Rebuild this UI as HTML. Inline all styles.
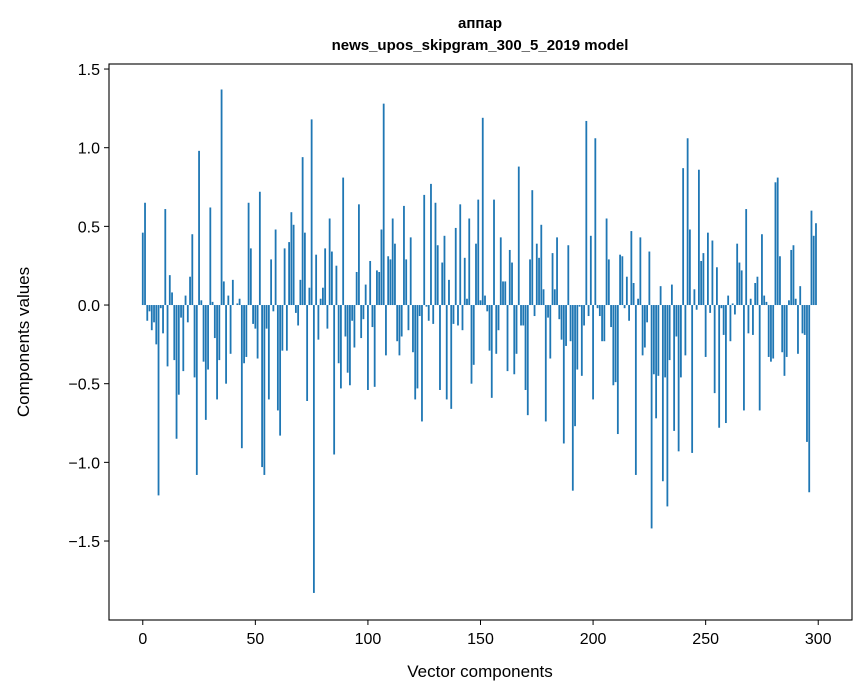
<!DOCTYPE html>
<html><head><meta charset="utf-8"><style>
body{margin:0;background:#fff;}
svg{display:block;font-family:"Liberation Sans","DejaVu Sans",sans-serif;}
</style></head><body>
<svg id="chart" width="867" height="696" viewBox="0 0 867 696">
<rect width="867" height="696" fill="#fff"/>
<text x="480" y="28" text-anchor="middle" font-size="15" font-weight="bold">аппар</text>
<text x="480" y="50" text-anchor="middle" font-size="15" font-weight="bold">news_upos_skipgram_300_5_2019 model</text>
<g id="bars"></g>
<g id="axes"></g>
<rect x="109" y="64" width="743" height="556" fill="none" stroke="#000" stroke-width="1.1"/>
<text x="480" y="677" text-anchor="middle" font-size="17">Vector components</text>
<text transform="translate(29,342) rotate(-90)" text-anchor="middle" font-size="17">Components values</text>
</svg>
<script>
const values = [
0.46,0.65,-0.10,-0.04,-0.16,-0.11,-0.25,-1.21,-0.02,-0.18,
0.61,-0.39,0.19,0.08,-0.35,-0.85,-0.57,-0.08,-0.42,0.06,
-0.11,0.18,0.45,-0.46,-1.08,0.98,0.03,-0.36,-0.73,-0.41,
0.62,0.02,-0.21,-0.60,-0.35,1.37,0.15,-0.50,0.06,-0.31,
0.16,0.00,0.01,0.04,-0.91,-0.37,-0.33,0.65,0.36,-0.12,
-0.15,-0.34,0.72,-1.03,-1.08,-0.15,-0.60,0.29,-0.04,0.48,
-0.67,-0.83,-0.29,0.36,-0.29,0.40,0.59,0.51,-0.05,-0.13,
0.16,0.94,0.46,-0.61,0.11,1.18,-1.83,0.32,-0.22,0.04,
0.11,0.36,-0.15,0.55,0.34,-0.95,0.25,-0.37,-0.53,0.81,
-0.20,-0.43,-0.51,-0.10,-0.27,0.21,0.64,-0.21,-0.09,0.13,
-0.54,0.28,-0.14,-0.52,0.22,0.21,0.48,1.28,-0.32,0.31,
0.29,0.55,0.39,-0.23,-0.32,-0.20,0.63,0.29,-0.16,0.43,
-0.30,-0.60,-0.53,-0.07,-0.74,0.70,-0.01,-0.10,0.77,-0.12,
0.65,0.38,-0.54,0.27,0.44,-0.60,0.16,-0.66,-0.12,0.49,
-0.13,0.64,-0.16,0.30,0.04,0.55,-0.50,-0.38,0.39,0.67,
0.03,1.19,0.06,-0.04,-0.29,-0.59,0.67,-0.31,-0.16,0.43,
0.15,0.15,-0.42,0.35,0.27,-0.44,-0.31,0.88,-0.13,-0.13,
-0.54,-0.70,0.29,0.73,-0.07,0.39,0.30,0.51,0.10,-0.74,
-0.08,-0.34,0.33,0.10,0.43,-0.09,-0.22,-0.88,-0.26,0.38,
-0.23,-1.18,-0.77,-0.41,-0.01,-0.45,-0.13,1.17,-0.07,0.44,
-0.60,1.06,-0.02,-0.07,-0.23,-0.23,0.55,0.29,-0.14,-0.51,
-0.49,-0.82,0.32,0.31,-0.02,0.18,-0.10,0.47,0.14,-1.08,
0.04,0.43,-0.32,-0.27,-0.11,0.34,-1.42,-0.44,-0.72,-0.45,
0.12,-1.12,-0.46,-1.28,-0.35,0.13,-0.80,-0.20,-0.93,-0.46,
0.87,-0.32,1.06,0.48,-0.94,0.10,-0.03,0.86,0.28,0.33,
-0.33,0.46,-0.05,0.41,-0.56,0.24,-0.78,-0.02,-0.19,-0.75,
0.06,-0.23,0.01,-0.06,0.39,0.27,0.22,-0.67,0.61,-0.18,
0.04,-0.19,0.14,0.18,-0.67,0.45,0.06,0.02,-0.33,-0.36,
-0.34,0.78,0.81,0.31,-0.30,-0.45,-0.33,0.03,0.35,0.38,
0.04,-0.31,0.12,-0.18,-0.19,-0.87,-1.19,0.60,0.44,0.52
];
const xTicks = [0,50,100,150,200,250,300];
const yTicks = [1.5,1.0,0.5,0.0,-0.5,-1.0,-1.5];
const yTickLabels = ["1.5","1.0","0.5","0.0","\u22120.5","\u22121.0","\u22121.5"];

const NS = "http://www.w3.org/2000/svg";
const L=109,R=852,T=64,B=620, X0=-15, X1=315, Y0=-2.002, Y1=1.532;
const xs = v => L + (v - X0) / (X1 - X0) * (R - L);
const ys = v => B - (v - Y0) / (Y1 - Y0) * (B - T);
const bars = document.getElementById('bars');
values.forEach((v, i) => {
  const r = document.createElementNS(NS, 'rect');
  const x1 = xs(i - 0.4), x2 = xs(i + 0.4);
  const y1 = ys(Math.max(v, 0)), y2 = ys(Math.min(v, 0));
  r.setAttribute('x', x1); r.setAttribute('width', x2 - x1);
  r.setAttribute('y', y1); r.setAttribute('height', Math.max(y2 - y1, 0));
  r.setAttribute('fill', '#1f77b4');
  
  
  bars.appendChild(r);
});
const axes = document.getElementById('axes');
xTicks.forEach(t => {
  const x = xs(t);
  const l = document.createElementNS(NS, 'line');
  l.setAttribute('x1', x); l.setAttribute('x2', x); l.setAttribute('y1', B); l.setAttribute('y2', B + 5);
  l.setAttribute('stroke', '#000');
  
  
  axes.appendChild(l);
  const tx = document.createElementNS(NS, 'text');
  tx.setAttribute('x', x); tx.setAttribute('y', B + 24);
  tx.setAttribute('text-anchor', 'middle'); tx.setAttribute('font-size', '16');
  tx.textContent = t;
  
  
  axes.appendChild(tx);
});
yTicks.forEach((t, k) => {
  const y = ys(t);
  const l = document.createElementNS(NS, 'line');
  l.setAttribute('x1', L - 5); l.setAttribute('x2', L); l.setAttribute('y1', y); l.setAttribute('y2', y);
  l.setAttribute('stroke', '#000');
  
  
  axes.appendChild(l);
  const tx = document.createElementNS(NS, 'text');
  tx.setAttribute('x', L - 9); tx.setAttribute('y', y + 6);
  tx.setAttribute('text-anchor', 'end'); tx.setAttribute('font-size', '16');
  tx.textContent = yTickLabels[k];
  
  
  axes.appendChild(tx);
});
</script>
</body></html>
